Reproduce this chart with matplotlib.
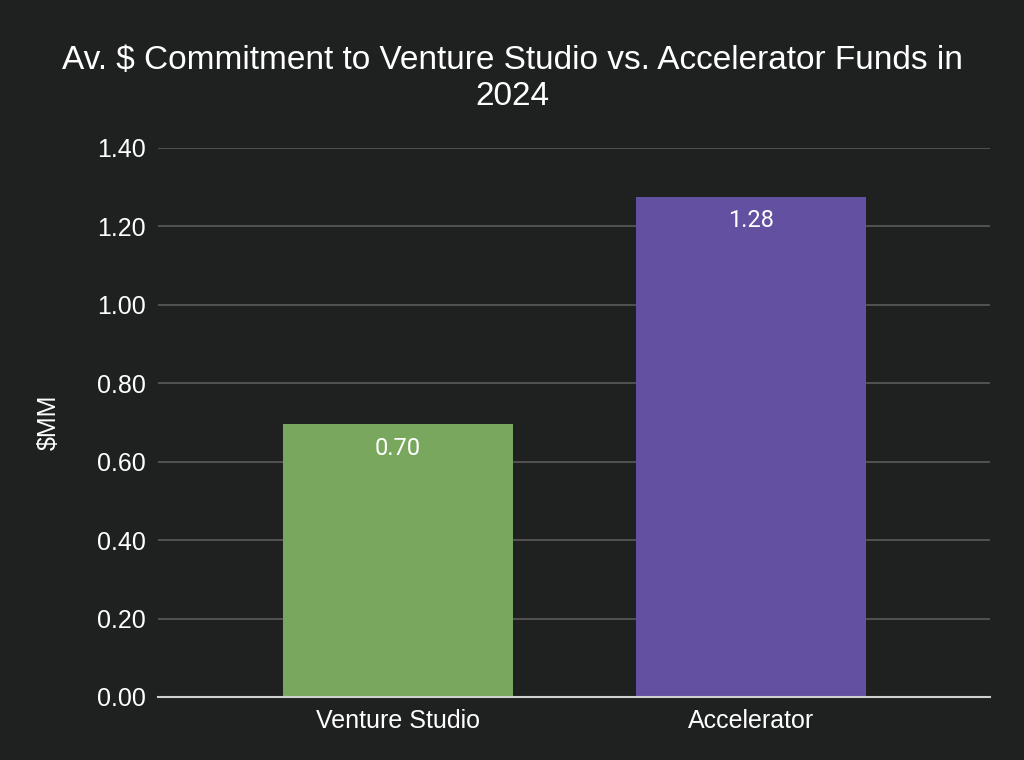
import matplotlib
matplotlib.use("Agg")
import matplotlib.pyplot as plt

categories = ["Venture Studio", "Accelerator"]
values = [0.696, 1.276]
bar_colors = ["#7aa75e", "#6350a0"]
yticks = [0.0, 0.2, 0.4, 0.6, 0.8, 1.0, 1.2, 1.4]
title = "Av. $ Commitment to Venture Studio vs. Accelerator Funds in\n2024"
ylabel = "$MM"

bg = "#1f2020"
plt.rcParams['font.family'] = ['Liberation Sans', 'DejaVu Sans']

fig = plt.figure(figsize=(10.24, 7.6), dpi=100, facecolor=bg)
ax = fig.add_axes([0.1543, 0.0829, 0.8125, 0.7224], facecolor=bg)

x = list(range(len(categories)))
bars = ax.bar(x, values, width=0.65, color=bar_colors, zorder=3)
ax.set_xlim(-0.68, 1.677)
ax.set_ylim(0, 1.4)
ax.set_yticks(yticks)
ax.set_yticklabels([f"{t:.2f}" for t in yticks], color="white", fontsize=18)
ax.set_xticks(x)
ax.set_xticklabels(categories, color="white", fontsize=18)
ax.tick_params(axis='y', length=0, pad=9)
ax.tick_params(axis='x', length=0, pad=9)
ax.grid(axis='y', color="#5a5a5a", linewidth=1.2, zorder=0)
for s in ["top", "right", "left"]:
    ax.spines[s].set_visible(False)
ax.spines["bottom"].set_color("#d0d0d0")
ax.spines["bottom"].set_linewidth(1.5)
ax.spines["bottom"].set_zorder(4)

for b, v in zip(bars, values):
    ax.annotate(f"{v:.2f}", (b.get_x() + b.get_width() / 2, v),
                xytext=(0, -9), textcoords="offset points",
                ha="center", va="top", color="white", fontsize=17,
                family=["Roboto", "DejaVu Sans"], zorder=5)

ax.set_ylabel(ylabel, color="white", fontsize=18, labelpad=26)
fig.text(0.5, 0.897, title, ha="center", va="center", color="white",
         fontsize=24, linespacing=1.2)

fig.savefig("out.png", dpi=100, facecolor=bg)
